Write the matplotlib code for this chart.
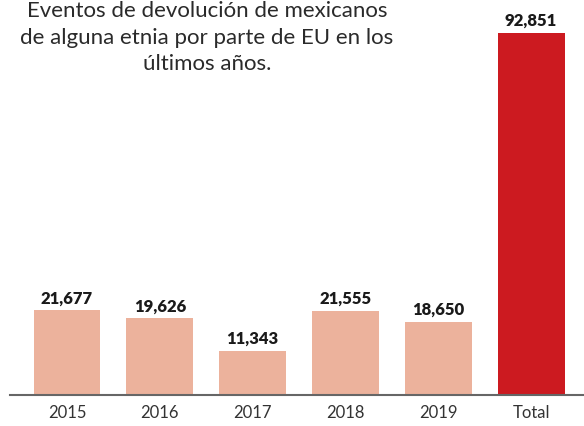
import matplotlib
matplotlib.use("Agg")
import matplotlib.pyplot as plt

categories = ["2015", "2016", "2017", "2018", "2019", "Total"]
values = [21677, 19626, 11343, 21555, 18650, 92851]
labels = ["21,677", "19,626", "11,343", "21,555", "18,650", "92,851"]
title_lines = ["Eventos de devolución de mexicanos",
               "de alguna etnia por parte de EU en los",
               "últimos años."]

plt.rcParams['font.family'] = ['Lato', 'DejaVu Sans']

W, H = 584, 426
fig = plt.figure(figsize=(W/100, H/100), dpi=100)
fig.patch.set_facecolor("white")
ax = fig.add_axes([10/W, (H-395)/H, (W-10)/W, 395/H])
ax.set_facecolor("white")

colors = ["#ecb29c"]*5 + ["#cc1a20"]
x = list(range(len(categories)))
ax.bar(x, values, width=0.72, color=colors)
ax.set_xlim(-0.614, 5.57)
ax.set_ylim(0, 92851*395/362)

for xi, v, lab in zip(x, values, labels):
    ax.annotate(lab, (xi, v), xytext=(0, 3), textcoords="offset points",
                ha="center", va="bottom", fontsize=12, fontweight="heavy",
                color="#1a1a1a")

for s in ["top", "right", "left"]:
    ax.spines[s].set_visible(False)
ax.spines["bottom"].set_color("#666666")
ax.spines["bottom"].set_linewidth(1.5)
ax.set_yticks([])
ax.set_xticks(x)
ax.set_xticklabels(categories, fontsize=12, color="#333333")
ax.tick_params(axis="x", length=0, pad=7)

for line, yb in zip(title_lines, [17, 44, 70]):
    fig.text(207/W, 1 - yb/H, line, ha="center", va="baseline",
             fontsize=16, color="#2a2a2a")

fig.savefig("out.png", dpi=100)
